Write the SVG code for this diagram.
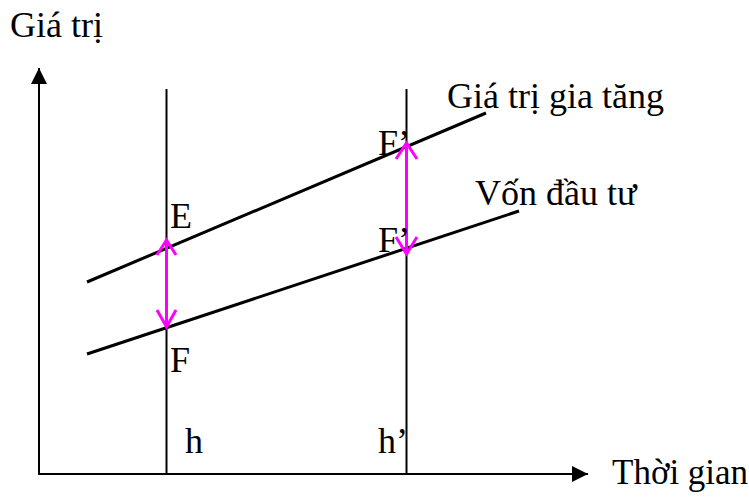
<svg xmlns="http://www.w3.org/2000/svg" width="749" height="503" viewBox="0 0 749 503">
<style>
text{font-family:"Liberation Serif","Times New Roman",serif;font-size:36px;fill:#000}
.ax{stroke:#000;stroke-width:2;fill:none}
.ln{stroke:#000;stroke-width:3;fill:none}
.mg{stroke:#FF00FF;stroke-width:3;fill:none}
</style>
<defs>
<marker id="ah" viewBox="0 0 10 10" refX="10" refY="5" markerWidth="8" markerHeight="8" markerUnits="strokeWidth" orient="auto">
<path d="M0,0 L10,5 L0,10 z" fill="#000"/>
</marker>
</defs>
<rect width="749" height="503" fill="#fff"/>
<g id="connectors">
<line class="ax" x1="39" y1="475" x2="39" y2="68" marker-end="url(#ah)"/>
<line class="ax" x1="38" y1="474" x2="588" y2="474" marker-end="url(#ah)"/>
<line class="ax" x1="166.5" y1="89" x2="166.5" y2="474"/>
<line class="ax" x1="406.5" y1="89" x2="406.5" y2="474"/>
<line class="ln" x1="87" y1="282" x2="486" y2="113"/>
<line class="ln" x1="87" y1="354" x2="519" y2="211"/>
<g id="arrow-EF">
<line class="mg" x1="166.5" y1="240" x2="166.5" y2="327"/>
<polyline class="mg" points="157,255 166.5,240 176,255"/>
<polyline class="mg" points="157,310 166.5,327 176,310"/>
</g>
<g id="arrow-FF">
<line class="mg" x1="406.5" y1="143" x2="406.5" y2="254"/>
<polyline class="mg" points="396,159 406.5,143 417,159"/>
<polyline class="mg" points="396,237 406.5,254 417,237"/>
</g>
</g>
<g id="labels">
<text x="10" y="37">Giá trị</text>
<text x="447" y="108">Giá trị gia tăng</text>
<text x="475" y="205">Vốn đầu tư</text>
<text x="612" y="484" style="font-size:35px">Thời gian</text>
<text x="170" y="228">E</text>
<text x="170" y="372">F</text>
<text x="378" y="155">F’</text>
<text x="378" y="252">F’</text>
<text x="185" y="453">h</text>
<text x="378" y="453">h’</text>
</g>
</svg>
